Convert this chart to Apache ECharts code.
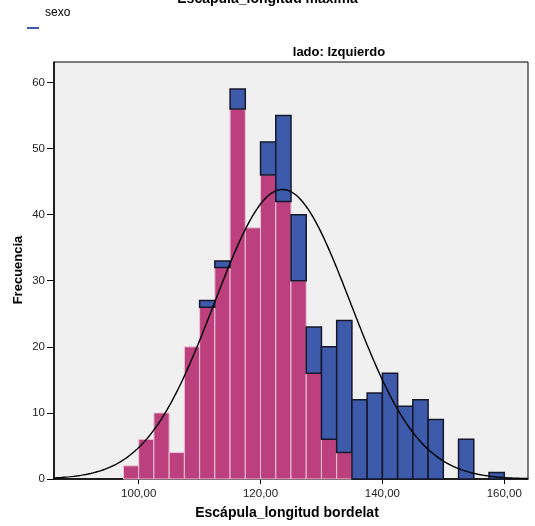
<!DOCTYPE html>
<html>
<head>
<meta charset="utf-8">
<script src="https://cdn.jsdelivr.net/npm/echarts@6/dist/echarts.min.js"></script>
<style>
  html, body { margin: 0; padding: 0; background: #ffffff; }
  #chart { width: 535px; height: 526px; }
</style>
</head>
<body>
<div id="chart"></div>
<script>
// Histogram bins: 2.5-wide classes starting at 97.5
const binStart = 97.5;
const binWidth = 2.5;
// Counts per bin for each sexo group (stacked: pink below, blue on top)
const pinkCounts = [2, 6, 10, 4, 20, 26, 32, 56, 38, 46, 42, 30, 16, 6, 4, 0, 0, 0, 0, 0, 0, 0, 0, 0, 0];
const blueCounts = [0, 0, 0, 0, 0, 1, 1, 3, 0, 5, 13, 10, 7, 14, 20, 12, 13, 16, 11, 12, 9, 0, 6, 0, 1];
// Normal curve parameters for the whole sample
const normalMean = 123.6;
const normalSd = 11.2;
// Axis ticks
const xTicks = [100, 120, 140, 160];
const yTicks = [0, 10, 20, 30, 40, 50, 60];

const xMin = 86.1, xMax = 163.9, yMax = 63.1;
const PINK = '#BC407E';
const BLUE = '#3E5AAA';
const FONT = 'Liberation Sans, Arial, sans-serif';

const pinkData = [];
const blueData = [];
let total = 0;
pinkCounts.forEach((c, i) => {
  const a = binStart + i * binWidth, b = a + binWidth;
  const blue = blueCounts[i];
  total += c + blue;
  if (c > 0) pinkData.push([a, b, 0, c]);
  if (blue > 0) blueData.push([a, b, c, c + blue]);
});

const curve = [];
for (let x = xMin; x <= xMax + 1e-9; x += 0.2) {
  const z = (x - normalMean) / normalSd;
  curve.push([x, total * binWidth / (normalSd * Math.sqrt(2 * Math.PI)) * Math.exp(-0.5 * z * z)]);
}

function rectRenderer(fill, stroke, lw) {
  return function (params, api) {
    const p0 = api.coord([api.value(0), api.value(3)]);
    const p1 = api.coord([api.value(1), api.value(2)]);
    return {
      type: 'rect',
      shape: { x: p0[0], y: p0[1], width: p1[0] - p0[0], height: p1[1] - p0[1] },
      style: { fill: fill, stroke: stroke, lineWidth: lw }
    };
  };
}

const chart = echarts.init(document.getElementById('chart'), null, { renderer: 'canvas' });
chart.setOption({
  animation: false,
  backgroundColor: '#ffffff',
  grid: {
    left: 54, right: 7, top: 62, bottom: 47,
    show: true, backgroundColor: '#F0F0F0', borderColor: '#000000', borderWidth: 1
  },
  xAxis: {
    type: 'value', min: xMin, max: xMax,
    splitLine: { show: false },
    axisLine: { lineStyle: { color: '#000', width: 1.5 } },
    axisTick: { show: true, length: 5, customValues: xTicks, lineStyle: { color: '#000' } },
    axisLabel: {
      customValues: xTicks, color: '#222', fontFamily: FONT, fontSize: 11.5, margin: 9,
      formatter: v => v.toFixed(2).replace('.', ',')
    }
  },
  yAxis: {
    type: 'value', min: 0, max: yMax,
    splitLine: { show: false },
    axisLine: { show: true, lineStyle: { color: '#000', width: 1.5 } },
    axisTick: { show: true, length: 7, customValues: yTicks, lineStyle: { color: '#000' } },
    axisLabel: { customValues: yTicks, color: '#222', fontFamily: FONT, fontSize: 11.5, margin: 9 }
  },
  series: [
    { type: 'custom', data: pinkData, renderItem: rectRenderer(PINK, '#EBC3D6', 1), z: 2 },
    { type: 'custom', data: blueData, renderItem: rectRenderer(BLUE, '#15182A', 1.5), z: 3 },
    {
      type: 'line', data: curve, showSymbol: false, smooth: false, z: 4,
      lineStyle: { color: '#000', width: 1.4 }
    }
  ],
  graphic: [
    { type: 'text', left: 'center', top: -8, style: { text: 'Escápula_longitud maxima', font: 'bold 14px ' + FONT, fill: '#000' } },
    { type: 'text', x: 339, y: 52, style: { text: 'lado: Izquierdo', font: 'bold 13px ' + FONT, fill: '#000', align: 'center', verticalAlign: 'middle' } },
    { type: 'text', x: 45, y: 13, style: { text: 'sexo', font: '12px ' + FONT, fill: '#000', verticalAlign: 'middle' } },
    { type: 'rect', shape: { x: 27, y: 27, width: 12, height: 2 }, style: { fill: BLUE } },
    { type: 'text', x: 18, y: 270, rotation: Math.PI / 2, style: { text: 'Frecuencia', font: 'bold 13px ' + FONT, fill: '#000', align: 'center', verticalAlign: 'middle' } },
    { type: 'text', x: 287, y: 513, style: { text: 'Escápula_longitud bordelat', font: 'bold 14px ' + FONT, fill: '#000', align: 'center', verticalAlign: 'middle' } }
  ]
});
</script>
</body>
</html>
